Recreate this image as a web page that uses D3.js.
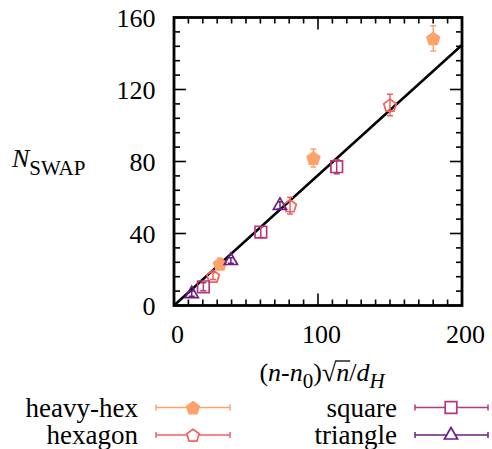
<!DOCTYPE html>
<html><head><meta charset="utf-8">
<script src="https://cdn.jsdelivr.net/npm/d3@7"></script>
<style>
html,body{margin:0;padding:0;background:#fff;}
</style></head>
<body><svg id="c" width="492" height="449" font-family="'Liberation Serif', 'DejaVu Serif', serif"></svg>
<script>
const seriesNames = ["heavy-hex","hexagon","square","triangle"];
const seriesColors = ["#fea26c","#f6605c","#b8377c","#6e1f83"];
const heavyHexX = [31.9, 96.8, 180.0];
const heavyHexY = [23.2, 82.0, 148.4];
const heavyHexE = [3.0, 5.0, 7.0];
const hexagonX = [27.1, 80.6, 150.0];
const hexagonY = [16.4, 55.5, 111.4];
const hexagonE = [2.0, 4.6, 6.0];
const squareX = [20.4, 60.3, 113.0];
const squareY = [10.4, 40.8, 77.1];
const squareE = [2.2, 3.0, 3.9];
const triangleX = [12.3, 39.5, 73.6];
const triangleY = [6.6, 25.0, 55.6];
const triangleE = [1.5, 1.5, 2.0];
const fitSlope = 0.7235;
const xTicks = [0, 100, 200];
const yTicks = [0, 40, 80, 120, 160];

const seriesData = [
  {name: seriesNames[0], x: heavyHexX, y: heavyHexY, e: heavyHexE, shape: "pentagon", fill: true},
  {name: seriesNames[1], x: hexagonX, y: hexagonY, e: hexagonE, shape: "pentagon", fill: false},
  {name: seriesNames[2], x: squareX, y: squareY, e: squareE, shape: "square", fill: false},
  {name: seriesNames[3], x: triangleX, y: triangleY, e: triangleE, shape: "triangle", fill: false}
];

const FF = "'Liberation Serif', 'DejaVu Serif', serif";
const svg = d3.select("#c");
const L = 174, R = 462, T = 17.5, B = 305.5;
const x = d3.scaleLinear().domain([0, 200]).range([L, R]);
const y = d3.scaleLinear().domain([0, 160]).range([B, T]);

svg.append("defs").append("clipPath").attr("id","clip")
  .append("rect").attr("x",L).attr("y",T).attr("width",R-L).attr("height",B-T);

// ticks (inward, all four sides)
const tk = svg.append("g").attr("stroke","#000").attr("stroke-width",1.6);
d3.range(0, 201, 10).forEach(v => {
  const len = (v % 100 === 0) ? 12 : 6;
  tk.append("line").attr("x1",x(v)).attr("x2",x(v)).attr("y1",B).attr("y2",B-len);
  tk.append("line").attr("x1",x(v)).attr("x2",x(v)).attr("y1",T).attr("y2",T+len);
});
d3.range(0, 161, 8).forEach(v => {
  const len = (v % 40 === 0) ? 12 : 6;
  tk.append("line").attr("y1",y(v)).attr("y2",y(v)).attr("x1",L).attr("x2",L+len);
  tk.append("line").attr("y1",y(v)).attr("y2",y(v)).attr("x1",R).attr("x2",R-len);
});

// tick labels
svg.append("g").selectAll("text").data(xTicks).join("text")
  .attr("font-family", FF)
  .attr("x", d => x(d) + 3.5).attr("y", 343).attr("text-anchor","middle")
  .attr("font-size", 26).text(d => d);
svg.append("g").selectAll("text").data(yTicks).join("text")
  .attr("font-family", FF)
  .attr("x", 155.5).attr("y", d => y(d) + 9.5).attr("text-anchor","end")
  .attr("font-size", 26).text(d => d);

// fit line
svg.append("line").attr("clip-path","url(#clip)")
  .attr("x1", x(0)).attr("y1", y(0)).attr("x2", x(200)).attr("y2", y(200*fitSlope))
  .attr("stroke","#000").attr("stroke-width",2.6);

function markerPath(shape, cx, cy) {
  if (shape === "pentagon") {
    const r = 6.6;
    const pts = d3.range(5).map(k => {
      const a = -Math.PI/2 + k*2*Math.PI/5;
      return [cx + r*Math.cos(a), cy + r*Math.sin(a) + 0.8];
    });
    return "M" + pts.map(p => p.join(",")).join("L") + "Z";
  }
  if (shape === "square") {
    const h = 5.8;
    return `M${cx-h},${cy-h}H${cx+h}V${cy+h}H${cx-h}Z`;
  }
  const w = 6.6;
  return `M${cx},${cy-7.5}L${cx+w},${cy+4}L${cx-w},${cy+4}Z`;
}

// data points
seriesData.forEach((s, i) => {
  const col = seriesColors[i];
  const g = svg.append("g").attr("clip-path","url(#clip)");
  s.x.forEach((xv, j) => {
    const cx = x(xv), cy = y(s.y[j]);
    const y1 = y(s.y[j] - s.e[j]), y2 = y(s.y[j] + s.e[j]);
    g.append("line").attr("x1",cx).attr("x2",cx).attr("y1",y1).attr("y2",y2)
      .attr("stroke",col).attr("stroke-width",1.5);
    [y1, y2].forEach(yy => g.append("line").attr("x1",cx-3).attr("x2",cx+3)
      .attr("y1",yy).attr("y2",yy).attr("stroke",col).attr("stroke-width",1.5));
    g.append("path").attr("d", markerPath(s.shape, cx, cy))
      .attr("fill", s.fill ? col : "none").attr("stroke", col).attr("stroke-width",1.7);
  });
});

// frame
svg.append("rect").attr("x",L).attr("y",T).attr("width",R-L).attr("height",B-T)
  .attr("fill","none").attr("stroke","#000").attr("stroke-width",2.8);

// y label
const yl = svg.append("text").attr("font-family", FF).attr("x", 12).attr("y", 166.5).attr("font-size", 26);
yl.append("tspan").attr("font-style","italic").text("N");
yl.append("tspan").attr("font-size", 21).attr("dy", 8).text("SWAP");

// x label
const xl = svg.append("text").attr("font-family", FF).attr("x", 322).attr("y", 381).attr("text-anchor","middle").attr("font-size", 26);
xl.append("tspan").text("(");
xl.append("tspan").attr("font-style","italic").text("n");
xl.append("tspan").text("-");
xl.append("tspan").attr("font-style","italic").text("n");
xl.append("tspan").attr("font-size",21).attr("dy",7).text("0");
xl.append("tspan").attr("dy",-7).text(")√");
xl.append("tspan").attr("font-style","italic").text("n");
xl.append("tspan").text("/");
xl.append("tspan").attr("font-style","italic").text("d");
xl.append("tspan").attr("font-style","italic").attr("font-size",21).attr("dy",7).text("H");
const n0 = xl.node();
const txt = n0.textContent;
const rootIdx = txt.indexOf("√");
const rs = n0.getEndPositionOfChar(rootIdx);
const en = n0.getEndPositionOfChar(rootIdx + 1);
svg.append("line").attr("x1", rs.x - 1).attr("x2", en.x + 1)
  .attr("y1", 381 - 20).attr("y2", 381 - 20).attr("stroke","#000").attr("stroke-width",1.3);

// legend
const legRows = [
  {i:0, tx:138, lx1:156, lx2:230, mx:193, y:407.5},
  {i:1, tx:138, lx1:156, lx2:230, mx:193, y:435},
  {i:2, tx:397, lx1:415, lx2:488, mx:451, y:407.5},
  {i:3, tx:397, lx1:415, lx2:488, mx:451, y:435}
];
legRows.forEach(r => {
  const s = seriesData[r.i], col = seriesColors[r.i];
  const g = svg.append("g");
  g.append("text").attr("font-family", FF).attr("x", r.tx).attr("y", r.y + 9).attr("text-anchor","end")
    .attr("font-size", 27).text(s.name);
  g.append("line").attr("x1", r.lx1).attr("x2", r.lx2).attr("y1", r.y).attr("y2", r.y)
    .attr("stroke", col).attr("stroke-width", 1.5);
  [r.lx1, r.lx2].forEach(xx => g.append("line").attr("x1", xx).attr("x2", xx)
    .attr("y1", r.y - 3).attr("y2", r.y + 3).attr("stroke", col).attr("stroke-width", 1.5));
  g.append("path").attr("d", markerPath(s.shape, r.mx, r.y))
    .attr("fill", s.fill ? col : "#fff").attr("stroke", col).attr("stroke-width", 1.7);
});
</script></body></html>
